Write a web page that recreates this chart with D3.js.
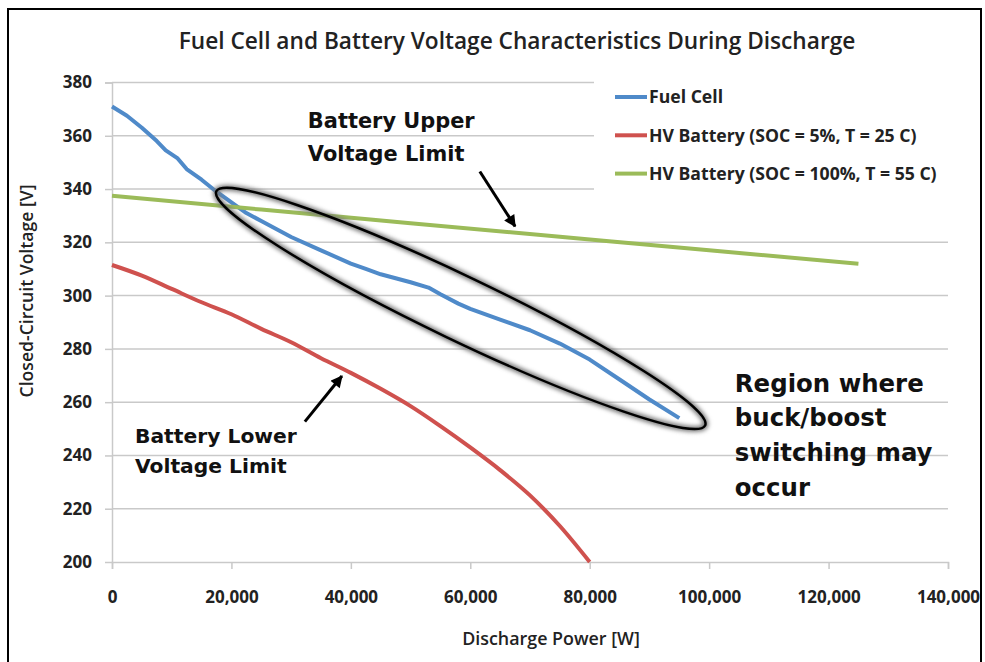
<!DOCTYPE html>
<html>
<head>
<meta charset="utf-8">
<script src="https://cdnjs.cloudflare.com/ajax/libs/d3/7.8.5/d3.min.js"></script>
<style>
  body { margin: 0; background: #fff; }
  svg { display: block; }
</style>
</head>
<body>
<div id="chart"></div>
<script>
// values
var fuelCellPower = [0, 2500, 5000, 7500, 9000, 10000, 11000, 12500, 15000, 17500, 20000, 22500, 25000, 27500, 30000,
                     35000, 40000, 42500, 45000, 50000, 53000, 55000, 58000, 60000, 65000, 70000, 75000, 80000, 85000, 90000, 95000];
var fuelCellVolts = [371, 367.5, 363, 358, 354.5, 353, 351.5, 347.5, 343.5, 339, 335, 331, 328, 325, 322,
                     317, 312, 310, 308, 305, 303, 300.5, 297, 295, 291, 287, 282, 276, 268.5, 261, 254];

var lowBattPower = [0, 5000, 10000, 15000, 20000, 25000, 30000, 35000, 40000, 45000, 50000, 55000, 60000, 65000, 70000, 75000, 80000];
var lowBattVolts = [311.5, 307.5, 302.5, 297.5, 293, 287.5, 282.5, 276.5, 271, 265, 258.5, 251, 243, 234.5, 225, 213.5, 200];

var highBattPower = [0, 25000, 50000, 75000, 100000, 125000];
var highBattVolts = [337.5, 332.3, 327.2, 322.1, 317, 312];

var seriesNames = ["Fuel Cell", "HV Battery (SOC = 5%, T = 25 C)", "HV Battery (SOC = 100%, T = 55 C)"];
var seriesColors = ["#4f8ac9", "#cf514e", "#9bbb59"];

var xTickValues = [0, 20000, 40000, 60000, 80000, 100000, 120000, 140000];
var yTickValues = [200, 220, 240, 260, 280, 300, 320, 340, 360, 380];

var W = 985, H = 662;
var svg = d3.select("#chart").append("svg").attr("width", W).attr("height", H);

var x = d3.scaleLinear().domain([0, 140000]).range([112, 948]);
var y = d3.scaleLinear().domain([200, 380]).range([562, 82.5]);

var labelFont = "'Open Sans', 'DejaVu Sans', sans-serif";
var noteFont = "'DejaVu Sans', Lato, sans-serif";

// scale font size so the text spans w pixels
function fitWidth(sel, w) {
  var len = sel.node().getComputedTextLength();
  var fs = parseFloat(sel.attr("font-size"));
  sel.attr("font-size", fs * w / len);
  return fs * w / len;
}

var defs = svg.append("defs");
defs.append("filter").attr("id", "glow").attr("x", "-10%").attr("y", "-30%").attr("width", "120%").attr("height", "160%")
  .append("feGaussianBlur").attr("stdDeviation", 2.2);
defs.append("marker")
  .attr("id", "head")
  .attr("viewBox", "0 0 10 10")
  .attr("refX", 9).attr("refY", 5)
  .attr("markerUnits", "userSpaceOnUse")
  .attr("markerWidth", 14).attr("markerHeight", 12)
  .attr("orient", "auto")
  .append("path").attr("d", "M0,0 L10,5 L0,10 z").attr("fill", "#000");

// outer frame
svg.append("rect").attr("x", 8).attr("y", 9).attr("width", 973).attr("height", 670)
  .attr("fill", "none").attr("stroke", "#000").attr("stroke-width", 2);

// title
var title = svg.append("text")
  .attr("x", 517).attr("y", 49)
  .attr("text-anchor", "middle")
  .attr("font-family", labelFont).attr("font-size", 20).attr("font-weight", 600).attr("fill", "#222")
  .text("Fuel Cell and Battery Voltage Characteristics During Discharge");
fitWidth(title, 677);

// grid
svg.append("g").attr("class", "grid")
  .selectAll("line").data(yTickValues.slice(1)).enter()
  .append("line")
  .attr("x1", x(0)).attr("x2", x(140000))
  .attr("y1", function(d) { return y(d); }).attr("y2", function(d) { return y(d); })
  .attr("stroke", "#c9c9c9").attr("stroke-width", 1.5);

// y axis
var yAxis = svg.append("g")
  .attr("transform", "translate(" + x(0) + ",0)")
  .call(d3.axisLeft(y).tickValues(yTickValues).tickSize(7).tickPadding(13));
// x axis
var xAxis = svg.append("g")
  .attr("transform", "translate(0," + y(200) + ")")
  .call(d3.axisBottom(x).tickValues(xTickValues).tickSize(7).tickPadding(22)
    .tickFormat(function(d) { return d3.format(",")(d); }));

[xAxis, yAxis].forEach(function(a) {
  a.select(".domain").attr("stroke", "#c9c9c9").attr("stroke-width", 1.5);
  a.selectAll(".tick line").attr("stroke", "#c9c9c9").attr("stroke-width", 1.5);
  a.selectAll(".tick text")
    .attr("font-family", labelFont).attr("font-size", 17).attr("font-weight", "bold").attr("fill", "#222");
});
yAxis.selectAll(".tick").filter(function(d) { return d === 200; }).select("line").attr("x2", 0);

// legend backdrop hides the grid behind it (as in the original)
svg.append("rect").attr("x", 594).attr("y", 76).attr("width", 360).attr("height", 120).attr("fill", "#fff");

// series
var line = d3.line()
  .x(function(d) { return x(d[0]); })
  .y(function(d) { return y(d[1]); });

var series = [
  d3.zip(fuelCellPower, fuelCellVolts),
  d3.zip(lowBattPower, lowBattVolts),
  d3.zip(highBattPower, highBattVolts)
];

svg.append("g").attr("class", "series")
  .selectAll("path").data(series).enter()
  .append("path")
  .attr("d", function(d, i) { return i === 0 ? line.curve(d3.curveLinear)(d) : line.curve(d3.curveMonotoneX)(d); })
  .attr("fill", "none")
  .attr("stroke", function(d, i) { return seriesColors[i]; })
  .attr("stroke-width", 4)
  .attr("stroke-linejoin", "round");

// legend
var legend = svg.append("g").attr("class", "legend")
  .selectAll("g").data(seriesNames).enter()
  .append("g")
  .attr("transform", function(d, i) { return "translate(615," + (97 + i * 38.3) + ")"; });
legend.append("line").attr("x1", 0).attr("x2", 32)
  .attr("stroke", function(d, i) { return seriesColors[i]; }).attr("stroke-width", 4);
var legendText = legend.append("text")
  .attr("x", 34).attr("dy", "0.36em")
  .attr("font-family", labelFont).attr("font-size", 15).attr("font-weight", "bold").attr("fill", "#222")
  .text(function(d) { return d; });
var lfs = fitWidth(d3.select(legendText.nodes()[2]), 288);
legendText.attr("font-size", lfs);

// axis titles
var yTitle = svg.append("text")
  .attr("transform", "translate(33,291) rotate(-90)")
  .attr("text-anchor", "middle")
  .attr("font-family", labelFont).attr("font-size", 15).attr("font-weight", 600).attr("fill", "#222")
  .text("Closed-Circuit Voltage [V]");
fitWidth(yTitle, 213);
var xTitle = svg.append("text")
  .attr("x", 551).attr("y", 645)
  .attr("text-anchor", "middle")
  .attr("font-family", labelFont).attr("font-size", 15).attr("font-weight", 600).attr("fill", "#222")
  .text("Discharge Power [W]");
fitWidth(xTitle, 178);

// annotations, placed in data space
var regionCenter = [58400, 295.2];
var cx = x(regionCenter[0]), cy = y(regionCenter[1]);
var notes = svg.append("g").attr("class", "notes");
notes.append("ellipse")
  .attr("cx", cx).attr("cy", cy).attr("rx", 271).attr("ry", 32)
  .attr("transform", "rotate(25.6," + cx + "," + cy + ")")
  .attr("fill", "none").attr("stroke", "#777").attr("stroke-width", 6).attr("filter", "url(#glow)");
notes.append("ellipse")
  .attr("cx", cx).attr("cy", cy).attr("rx", 271).attr("ry", 32)
  .attr("transform", "rotate(25.6," + cx + "," + cy + ")")
  .attr("fill", "none").attr("stroke", "#000").attr("stroke-width", 2.5);

var arrows = [
  [[61600, 346.6], [67500, 326.0]],
  [[32300, 252.7], [38500, 269.8]]
];
notes.selectAll(".arrow").data(arrows).enter()
  .append("line").attr("class", "arrow")
  .attr("x1", function(d) { return x(d[0][0]); }).attr("y1", function(d) { return y(d[0][1]); })
  .attr("x2", function(d) { return x(d[1][0]); }).attr("y2", function(d) { return y(d[1][1]); })
  .attr("stroke", "#000").attr("stroke-width", 3)
  .attr("marker-end", "url(#head)");

function noteBlock(lines, px, pys, size, firstWidth) {
  var t = notes.selectAll(null).data(lines).enter()
    .append("text")
    .attr("x", x(px))
    .attr("y", function(d, i) { return y(pys[i]); })
    .attr("font-family", noteFont).attr("font-size", size).attr("font-weight", "bold").attr("fill", "#111")
    .text(function(d) { return d; });
  var fs = fitWidth(d3.select(t.nodes()[0]), firstWidth);
  t.attr("font-size", fs);
}
noteBlock(["Battery Upper", "Voltage Limit"], 32800, [362.9, 350.5], 22, 167);
noteBlock(["Battery Lower", "Voltage Limit"], 3850, [244.7, 233.4], 22, 162);
noteBlock(["Region where", "buck/boost", "switching may", "occur"], 104300, [263.8, 251.1, 237.9, 224.8], 24, 189);
</script>
</body>
</html>
